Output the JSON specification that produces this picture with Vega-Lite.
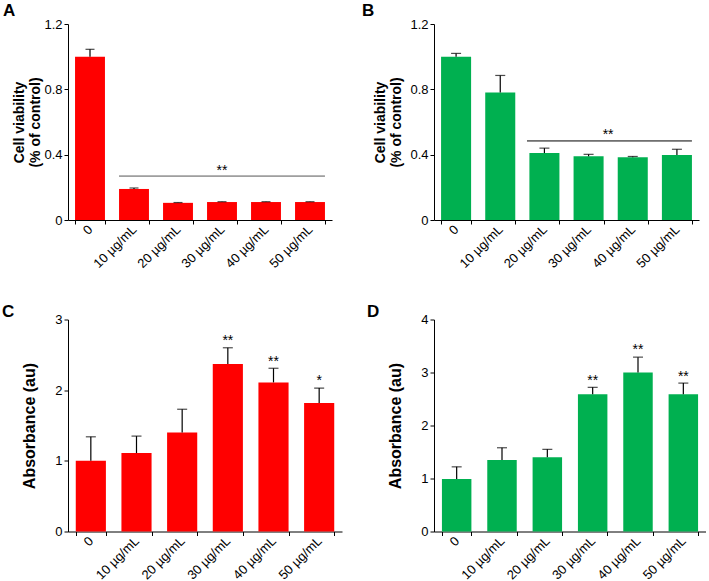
{
  "$schema": "https://vega.github.io/schema/vega-lite/v6.json",
  "padding": {"left": 2, "top": 2, "right": 0, "bottom": 0},
  "background": "white",
  "datasets": {
    "A": [
      {"dose": "0", "value": 1.0, "err": 1.045},
      {"dose": "10 µg/mL", "value": 0.19, "err": 0.196},
      {"dose": "20 µg/mL", "value": 0.105, "err": 0.107},
      {"dose": "30 µg/mL", "value": 0.11, "err": 0.112},
      {"dose": "40 µg/mL", "value": 0.11, "err": 0.112},
      {"dose": "50 µg/mL", "value": 0.11, "err": 0.112}
    ],
    "B": [
      {"dose": "0", "value": 1.0, "err": 1.02},
      {"dose": "10 µg/mL", "value": 0.78, "err": 0.885},
      {"dose": "20 µg/mL", "value": 0.41, "err": 0.44},
      {"dose": "30 µg/mL", "value": 0.39, "err": 0.402},
      {"dose": "40 µg/mL", "value": 0.384, "err": 0.389},
      {"dose": "50 µg/mL", "value": 0.398, "err": 0.433}
    ],
    "C": [
      {"dose": "0", "value": 1.0, "err": 1.34, "star": "", "stary": 0},
      {"dose": "10 µg/mL", "value": 1.11, "err": 1.35, "star": "", "stary": 0},
      {"dose": "20 µg/mL", "value": 1.40, "err": 1.73, "star": "", "stary": 0},
      {"dose": "30 µg/mL", "value": 2.37, "err": 2.60, "star": "**", "stary": 2.69},
      {"dose": "40 µg/mL", "value": 2.11, "err": 2.31, "star": "**", "stary": 2.40},
      {"dose": "50 µg/mL", "value": 1.82, "err": 2.03, "star": "*", "stary": 2.13}
    ],
    "D": [
      {"dose": "0", "value": 0.99, "err": 1.22, "star": "", "stary": 0},
      {"dose": "10 µg/mL", "value": 1.35, "err": 1.58, "star": "", "stary": 0},
      {"dose": "20 µg/mL", "value": 1.40, "err": 1.55, "star": "", "stary": 0},
      {"dose": "30 µg/mL", "value": 2.59, "err": 2.72, "star": "**", "stary": 2.84},
      {"dose": "40 µg/mL", "value": 3.0, "err": 3.29, "star": "**", "stary": 3.43},
      {"dose": "50 µg/mL", "value": 2.59, "err": 2.80, "star": "**", "stary": 2.92}
    ],
    "Aline": [{"from": "10 µg/mL", "to": "50 µg/mL", "y": 0.269, "mid": "30 µg/mL", "stary": 0.30, "star": "**"}],
    "Bline": [{"from": "20 µg/mL", "to": "50 µg/mL", "y": 0.484, "mid": "30 µg/mL", "stary": 0.522, "star": "**"}]
  },
  "spacing": 31.5,
  "vconcat": [
    {
      "spacing": 30,
      "hconcat": [
        {
          "width": 264, "height": 196,
          "title": {"text": "A", "dx": -65, "offset": -2},
          "data": {"name": "A"},
          "encoding": {
            "x": {"field": "dose", "type": "nominal", "sort": null, "scale": {"paddingInner": 0.32, "paddingOuter": 0.16}}
          },
          "layer": [
            {"mark": {"type": "bar", "color": "#ff0000"},
             "encoding": {"y": {"field": "value", "type": "quantitative", "scale": {"domain": [0, 1.2], "nice": false},
               "axis": {"values": [0, 0.4, 0.8, 1.2], "format": "~g", "title": ["Cell viability", "(% of control)"], "titlePadding": 1.5}}}},
            {"mark": {"type": "rule", "color": "black", "strokeWidth": 1.2},
             "encoding": {"y": {"field": "value", "type": "quantitative"}, "y2": {"field": "err"}}},
            {"mark": {"type": "tick", "color": "black", "size": 9, "thickness": 1.2},
             "encoding": {"y": {"field": "err", "type": "quantitative"}}},
            {"data": {"name": "Aline"},
             "mark": {"type": "rule", "color": "#555555", "strokeWidth": 1},
             "encoding": {"x": {"field": "from", "type": "nominal", "bandPosition": 0}, "x2": {"field": "to", "bandPosition": 1}, "y": {"field": "y", "type": "quantitative"}}},
            {"data": {"name": "Aline"},
             "mark": {"type": "text", "fontSize": 14, "baseline": "middle", "font": "Liberation Sans", "color": "black"},
             "encoding": {"x": {"field": "mid", "type": "nominal"}, "y": {"field": "stary", "type": "quantitative"}, "text": {"field": "star"}}}
          ]
        },
        {
          "width": 265, "height": 196,
          "title": {"text": "B", "dx": -72, "offset": -2},
          "data": {"name": "B"},
          "encoding": {
            "x": {"field": "dose", "type": "nominal", "sort": null, "scale": {"paddingInner": 0.32, "paddingOuter": 0.16}}
          },
          "layer": [
            {"mark": {"type": "bar", "color": "#00b050"},
             "encoding": {"y": {"field": "value", "type": "quantitative", "scale": {"domain": [0, 1.2], "nice": false},
               "axis": {"values": [0, 0.4, 0.8, 1.2], "format": "~g", "title": ["Cell viability", "(% of control)"], "titlePadding": 6.5}}}},
            {"mark": {"type": "rule", "color": "black", "strokeWidth": 1.2},
             "encoding": {"y": {"field": "value", "type": "quantitative"}, "y2": {"field": "err"}}},
            {"mark": {"type": "tick", "color": "black", "size": 10, "thickness": 1.2},
             "encoding": {"y": {"field": "err", "type": "quantitative"}}},
            {"data": {"name": "Bline"},
             "mark": {"type": "rule", "color": "black", "strokeWidth": 1},
             "encoding": {"x": {"field": "from", "type": "nominal", "bandPosition": -0.08}, "x2": {"field": "to", "bandPosition": 1}, "y": {"field": "y", "type": "quantitative"}}},
            {"data": {"name": "Bline"},
             "mark": {"type": "text", "fontSize": 14, "baseline": "middle", "font": "Liberation Sans", "color": "black"},
             "encoding": {"x": {"field": "mid", "type": "nominal", "bandPosition": 1.15}, "y": {"field": "stary", "type": "quantitative"}, "text": {"field": "star"}}}
          ]
        }
      ]
    },
    {
      "spacing": 25,
      "hconcat": [
        {
          "width": 274, "height": 212,
          "title": {"text": "C", "dx": -66, "offset": -7},
          "data": {"name": "C"},
          "encoding": {
            "x": {"field": "dose", "type": "nominal", "sort": null, "scale": {"paddingInner": 0.34, "paddingOuter": 0.17}}
          },
          "layer": [
            {"mark": {"type": "bar", "color": "#ff0000"},
             "encoding": {"y": {"field": "value", "type": "quantitative", "scale": {"domain": [0, 3], "nice": false},
               "axis": {"values": [0, 1, 2, 3], "format": "d", "title": "Absorbance (au)", "titleFontSize": 16, "titlePadding": 17.4}}}},
            {"mark": {"type": "rule", "color": "black", "strokeWidth": 1.2},
             "encoding": {"y": {"field": "value", "type": "quantitative"}, "y2": {"field": "err"}}},
            {"mark": {"type": "tick", "color": "black", "size": 10, "thickness": 1.2},
             "encoding": {"y": {"field": "err", "type": "quantitative"}}},
            {"mark": {"type": "text", "fontSize": 14, "baseline": "middle", "font": "Liberation Sans", "color": "black"},
             "encoding": {"y": {"field": "stary", "type": "quantitative"}, "text": {"field": "star"}}}
          ]
        },
        {
          "width": 272, "height": 212,
          "title": {"text": "D", "dx": -67, "offset": -7},
          "data": {"name": "D"},
          "encoding": {
            "x": {"field": "dose", "type": "nominal", "sort": null, "scale": {"paddingInner": 0.35, "paddingOuter": 0.175}}
          },
          "layer": [
            {"mark": {"type": "bar", "color": "#00b050"},
             "encoding": {"y": {"field": "value", "type": "quantitative", "scale": {"domain": [0, 4], "nice": false},
               "axis": {"values": [0, 1, 2, 3, 4], "format": "d", "title": "Absorbance (au)", "titleFontSize": 16, "titlePadding": 17.4}}}},
            {"mark": {"type": "rule", "color": "black", "strokeWidth": 1.2},
             "encoding": {"y": {"field": "value", "type": "quantitative"}, "y2": {"field": "err"}}},
            {"mark": {"type": "tick", "color": "black", "size": 10, "thickness": 1.2},
             "encoding": {"y": {"field": "err", "type": "quantitative"}}},
            {"mark": {"type": "text", "fontSize": 14, "baseline": "middle", "font": "Liberation Sans", "color": "black"},
             "encoding": {"y": {"field": "stary", "type": "quantitative"}, "text": {"field": "star"}}}
          ]
        }
      ]
    }
  ],
  "config": {
    "view": {"stroke": null},
    "font": "Liberation Sans",
    "title": {"font": "Liberation Sans", "fontSize": 17, "fontWeight": "bold", "anchor": "start", "frame": "group", "color": "black"},
    "axis": {
      "domainColor": "black", "tickColor": "black", "labelColor": "black",
      "labelFont": "Liberation Sans", "labelFontSize": 13,
      "titleFont": "Liberation Sans", "titleFontSize": 14, "titleFontWeight": "bold", "titleColor": "black",
      "grid": false, "tickSize": 4, "domainWidth": 1, "tickWidth": 1
    },
    "axisX": {"labelAngle": -45, "labelAlign": "right", "labelBaseline": "middle", "labelPadding": 3, "title": null, "tickBand": "extent", "labelOverlap": false, "labelFontSize": 13},
    "axisY": {"labelPadding": 2, "tickSize": 4}
  }
}
